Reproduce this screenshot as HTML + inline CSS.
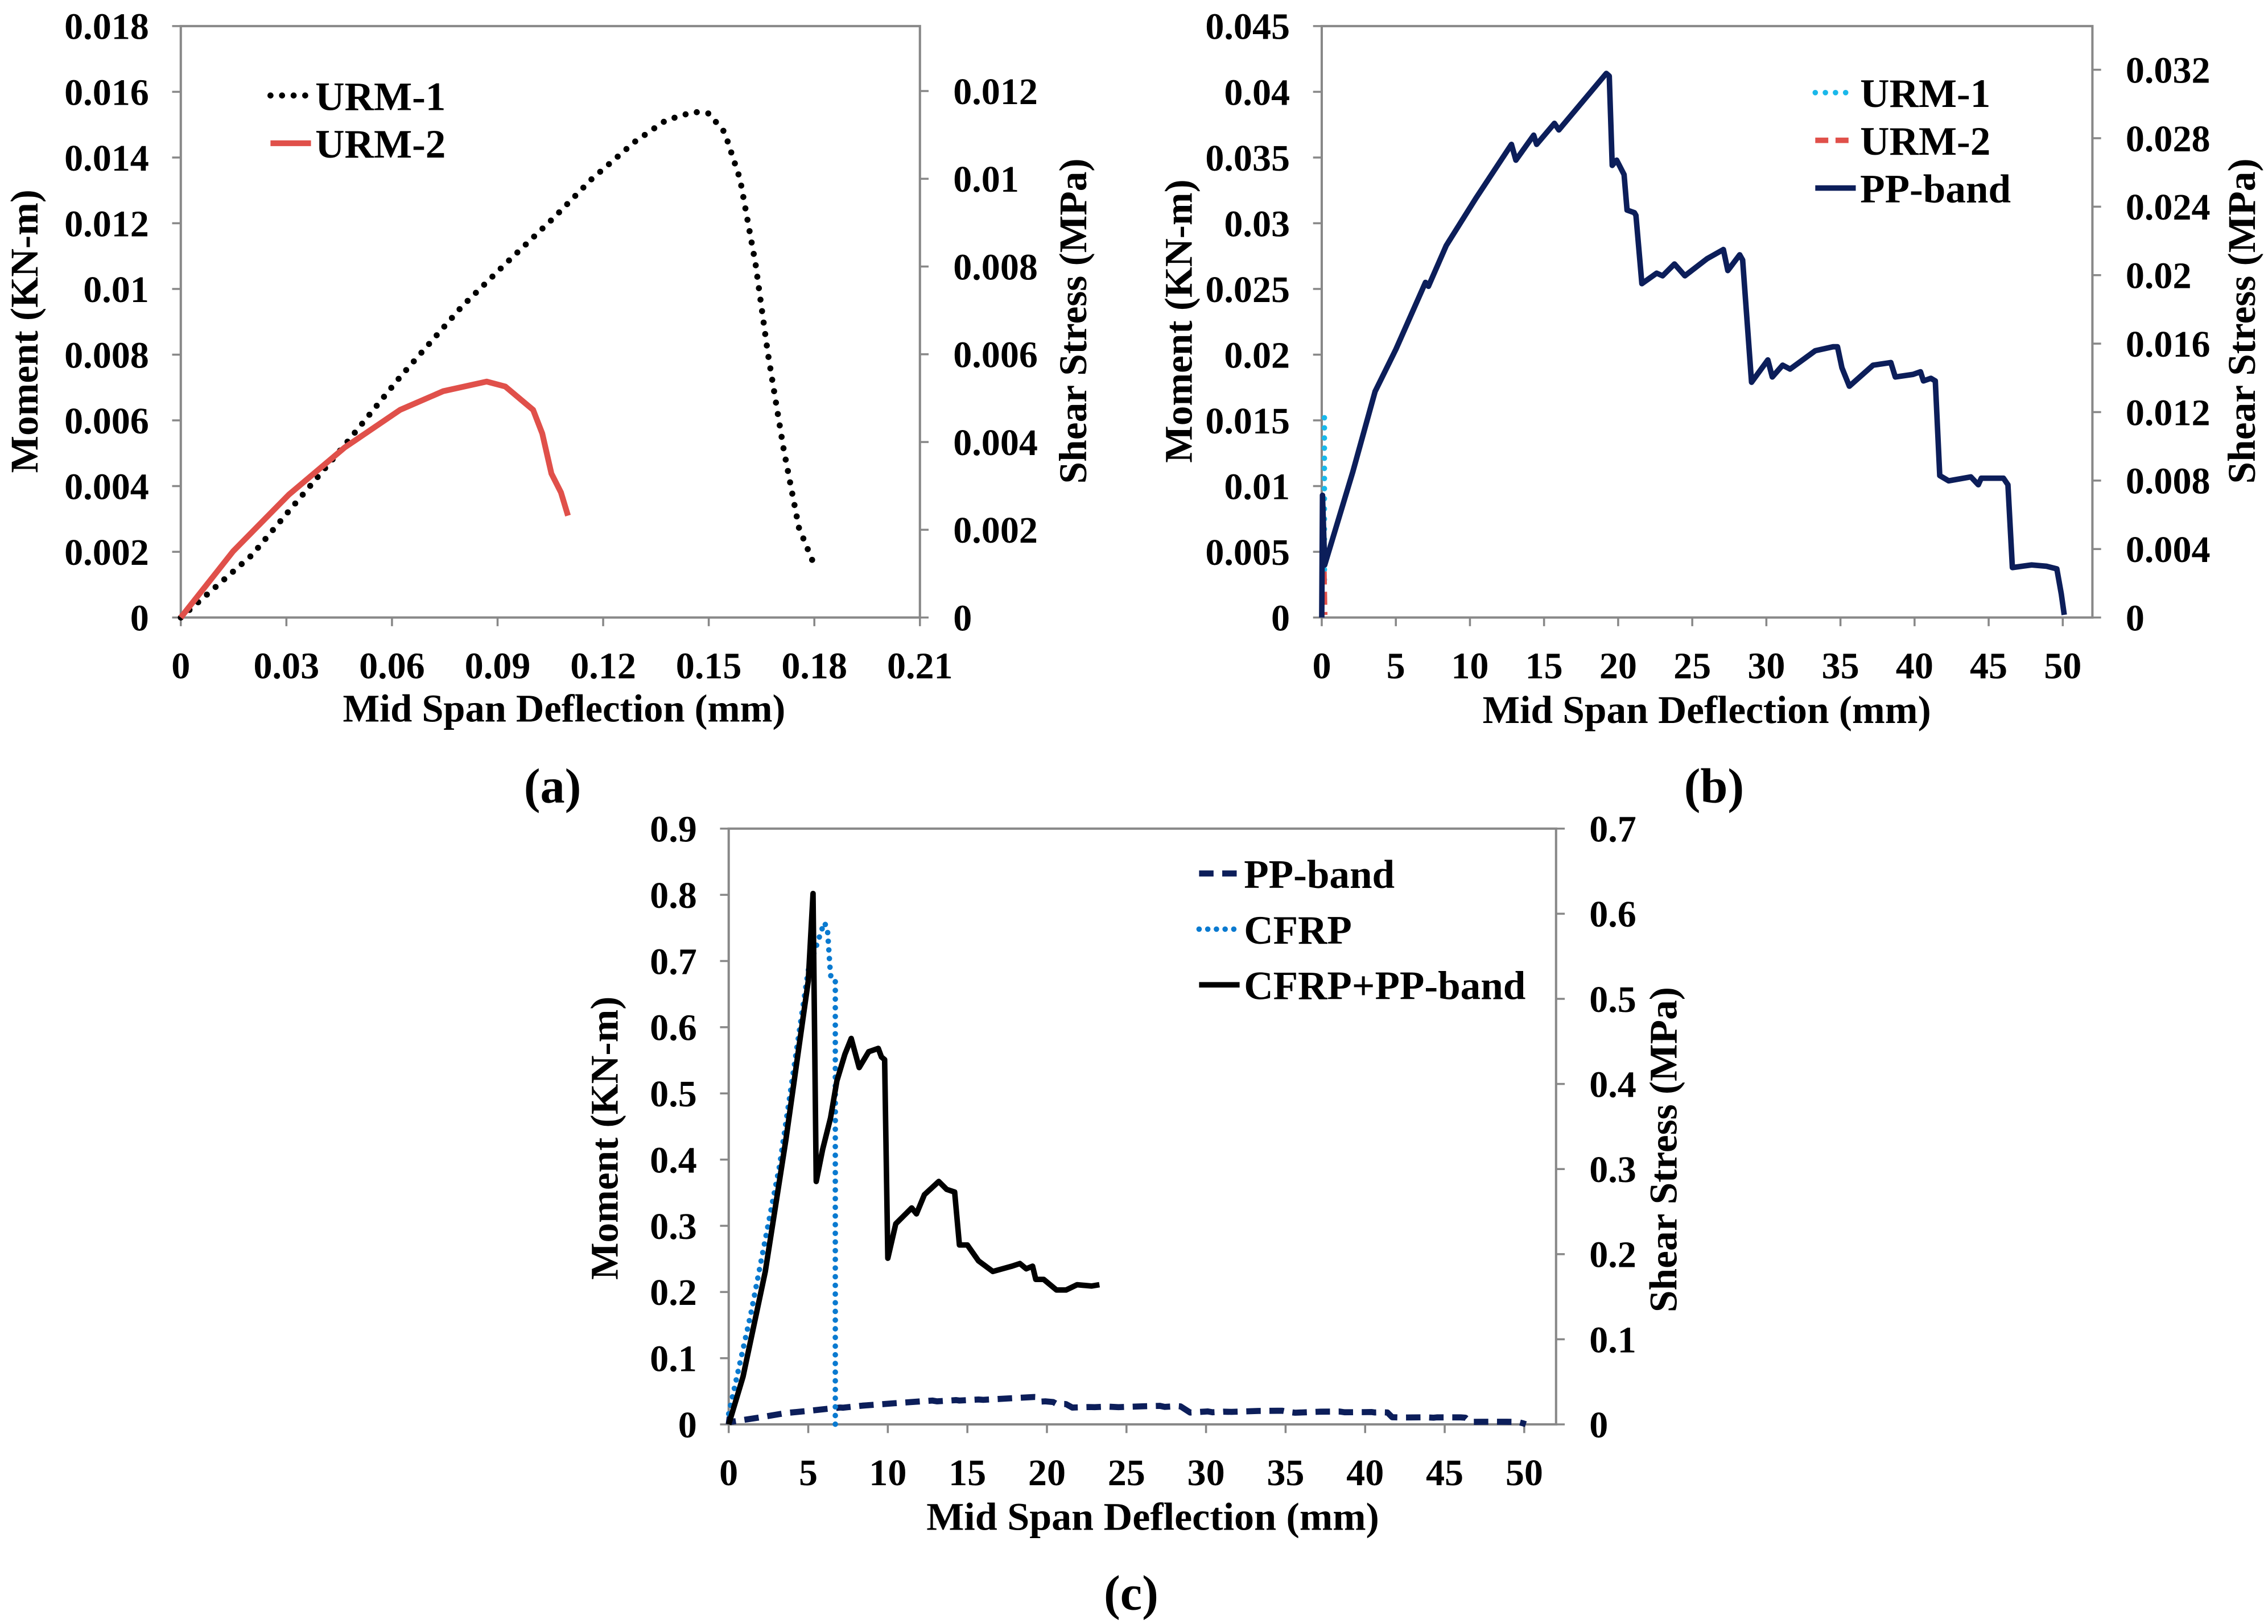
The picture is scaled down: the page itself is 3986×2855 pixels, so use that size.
<!DOCTYPE html>
<html><head><meta charset="utf-8"><style>
html,body{margin:0;padding:0;background:#fff;}
svg{display:block;}
text{font-family:"Liberation Serif",serif;font-weight:bold;fill:#000;}
</style></head><body>
<svg id="fig" width="3986" height="2855" viewBox="0 0 1568 1123" xmlns="http://www.w3.org/2000/svg"></svg>
<script>
// ---- Data (a) ----
const urm1X=[0,0.0202,0.0307,0.0465,0.0623,0.0799,0.0922,0.1062,0.1167,0.129,0.1378,0.1457,0.150,0.1545,0.1589,0.1633,0.1668,0.1712,0.1756,0.18];
const urm1M=[0,0.0019,0.00324,0.00524,0.00732,0.00947,0.01076,0.01219,0.01334,0.01448,0.01513,0.01539,0.01534,0.01477,0.01334,0.01076,0.00804,0.00517,0.00274,0.00159];
const urm2X=[0,0.0149,0.0307,0.0465,0.0623,0.0746,0.0869,0.0922,0.1001,0.1027,0.1053,0.108,0.11];
const urm2M=[0,0.00202,0.00374,0.00517,0.00632,0.00689,0.00718,0.00703,0.00632,0.0056,0.00438,0.00381,0.0031];
// ---- Data (b) ----
const ppX=[0,0.05,0.2,2.1,3.6,5.0,7.0,7.2,8.4,10.4,12.8,13.1,14.3,14.5,15.7,16.0,19.2,19.4,19.6,19.9,20.4,20.6,21.1,21.2,21.6,22.6,23.0,23.8,24.5,26.0,27.1,27.4,28.2,28.4,29.0,30.1,30.4,31.1,31.6,33.3,34.5,34.8,35.1,35.6,37.2,38.4,38.7,39.9,40.4,40.6,41.1,41.4,41.7,42.3,43.8,44.3,44.5,46.0,46.3,46.6,47.9,48.9,49.6,49.9,50.1];
const ppM=[0,0.0093,0.004,0.0111,0.0172,0.0204,0.0255,0.0252,0.0283,0.0319,0.036,0.0348,0.0367,0.036,0.0376,0.0371,0.0414,0.0412,0.0344,0.0348,0.0337,0.031,0.0308,0.0306,0.0254,0.0262,0.026,0.0269,0.026,0.0273,0.028,0.0264,0.0276,0.0272,0.0179,0.0196,0.0183,0.0192,0.0189,0.0203,0.0206,0.0206,0.019,0.0176,0.0192,0.0194,0.0183,0.0185,0.0187,0.018,0.0182,0.018,0.0108,0.0104,0.0107,0.0101,0.0106,0.0106,0.0101,0.0038,0.004,0.0039,0.0037,0.0018,0.0002];
const bUrm1X=[0.18,0.18];
const bUrm1M=[0.0152,0.0025];
const bUrm2X=[0.15,0.2];
const bUrm2M=[0.0035,0.0002];
// ---- Data (c) ----
const combX=[0,0.9,2.3,3.6,5.0,5.3,5.5,5.9,6.4,6.8,7.3,7.7,8.2,8.8,9.4,9.6,9.8,10.0,10.5,11.0,11.5,11.8,12.3,13.2,13.7,14.2,14.5,15.0,15.7,16.6,17.8,18.3,18.7,19.1,19.3,19.8,20.6,21.2,21.9,22.8,23.3];
const combM=[0,0.072,0.231,0.431,0.67,0.802,0.367,0.415,0.463,0.519,0.559,0.583,0.539,0.563,0.568,0.555,0.551,0.251,0.303,0.315,0.327,0.318,0.347,0.367,0.355,0.351,0.271,0.271,0.247,0.231,0.239,0.243,0.235,0.239,0.219,0.219,0.203,0.203,0.211,0.209,0.211];
const cfrpX=[0,1.4,3.2,5.0,6.0,6.2,6.4,6.7,6.7];
const cfrpM=[0.016,0.168,0.391,0.686,0.758,0.75,0.678,0.674,0];
const ppScaleC=[1];

const xTicksA=["0","0.03","0.06","0.09","0.12","0.15","0.18","0.21"];
const yTicksA=["0","0.002","0.004","0.006","0.008","0.01","0.012","0.014","0.016","0.018"];
const y2TicksA=["0","0.002","0.004","0.006","0.008","0.01","0.012"];
const xTicksB=["0","5","10","15","20","25","30","35","40","45","50"];
const yTicksB=["0","0.005","0.01","0.015","0.02","0.025","0.03","0.035","0.04","0.045"];
const y2TicksB=["0","0.004","0.008","0.012","0.016","0.02","0.024","0.028","0.032"];
const yTicksC=["0","0.1","0.2","0.3","0.4","0.5","0.6","0.7","0.8","0.9"];
const y2TicksC=["0","0.1","0.2","0.3","0.4","0.5","0.6","0.7"];

const NS="http://www.w3.org/2000/svg";
const svg=document.getElementById('fig');
function el(tag,attrs,parent,txt){const e=document.createElementNS(NS,tag);for(const k in attrs)e.setAttribute(k,attrs[k]);if(txt!==undefined)e.textContent=txt;(parent||svg).appendChild(e);return e;}

function panel(c){
  const g=el('g',{});
  
  
  const sx=v=>c.x0+(c.x1-c.x0)*v/c.xmax;
  const sy=v=>c.y1-(c.y1-c.y0)*v/c.ymax;
  const sy2=v=>c.y1-(c.y1-c.y0)*v/c.y2max;
  const frame=el('rect',{x:c.x0,y:c.y0,width:c.x1-c.x0,height:c.y1-c.y0,fill:'none',stroke:'#888','stroke-width':1.6},g);
  
  
  c.xt.forEach(t=>{const v=parseFloat(t);const x=sx(v);
    el('line',{x1:x,x2:x,y1:c.y1,y2:c.y1+6,stroke:'#888','stroke-width':1.4},g);
    const tx=el('text',{x:x,y:c.y1+42,'font-size':26,'text-anchor':'middle'},g,t);
    
    });
  c.yt.forEach(t=>{const v=parseFloat(t);const y=sy(v);
    el('line',{x1:c.x0-6,x2:c.x0,y1:y,y2:y,stroke:'#888','stroke-width':1.4},g);
    const tx=el('text',{x:c.x0-22,y:y+9,'font-size':26,'text-anchor':'end'},g,t);
    
    });
  c.y2t.forEach(t=>{const v=parseFloat(t);const y=sy2(v);
    el('line',{x1:c.x1,x2:c.x1+6,y1:y,y2:y,stroke:'#888','stroke-width':1.4},g);
    const tx=el('text',{x:c.x1+23,y:y+9,'font-size':26,'text-anchor':'start'},g,t);
    
    });
  const xt=el('text',{x:c.xtx,y:c.xty,'font-size':27,'text-anchor':'middle',textLength:c.xtl,lengthAdjust:'spacingAndGlyphs'},g,'Mid Span Deflection (mm)');
  
  
  const yt=el('text',{x:0,y:0,'font-size':27,'text-anchor':'middle',textLength:196,lengthAdjust:'spacingAndGlyphs',transform:`translate(${c.ytx},${c.yty}) rotate(-90)`},g,'Moment (KN-m)');
  
  
  const y2=el('text',{x:0,y:0,'font-size':27,'text-anchor':'middle',textLength:225,lengthAdjust:'spacingAndGlyphs',transform:`translate(${c.y2tx},${c.y2ty}) rotate(-90)`},g,'Shear Stress (MPa)');
  
  
  c.series.forEach(s=>{
    const d=s.x.map((v,i)=>(i?'L':'M')+sx(v).toFixed(2)+','+sy(s.y[i]).toFixed(2)).join('');
    const p=el('path',{d:d,fill:'none',stroke:s.color,'stroke-width':s.w,'stroke-dasharray':s.dash||'none','stroke-linecap':s.cap||'butt','stroke-linejoin':'round'},g);
    
    
  });
  c.legend.forEach((s,i)=>{
    const y=c.ly+i*c.lgap;
    const ln=el('line',{x1:c.lx,x2:c.lx+28,y1:y,y2:y,stroke:s.color,'stroke-width':s.w,'stroke-dasharray':s.dash||'none','stroke-linecap':s.cap||'butt'},g);
    
    
    const t=el('text',{x:c.lx+31,y:y+10,'font-size':28},g,s.label);
    
    
  });
  const pl=el('text',{x:c.plx,y:c.ply,'font-size':34,'text-anchor':'middle'},g,c.plabel);
  
  
}

const sU1={name:'series-urm-1',label:'URM-1',color:'#000',w:4.2,dash:'0 8',cap:'round'};
const sU2={name:'series-urm-2',label:'URM-2',color:'#e0504a',w:4};
panel({name:'panel-a',x0:125,x1:636,y0:18,y1:427,xmax:0.21,ymax:0.018,y2max:0.01348,
  xt:xTicksA,yt:yTicksA,y2t:y2TicksA,xtx:390,xty:499,xtl:306,ytx:26,yty:229,y2tx:751,y2ty:222,
  series:[Object.assign({},sU1,{x:urm1X,y:urm1M}),Object.assign({},sU2,{x:urm2X,y:urm2M})],
  legend:[sU1,sU2],lx:187,ly:66,lgap:33,plx:382,ply:555,plabel:'(a)'});

const bU1={name:'series-urm-1',label:'URM-1',color:'#1ab8ea',w:3.8,dash:'0 7',cap:'round'};
const bU2={name:'series-urm-2',label:'URM-2',color:'#e0504a',w:3.8,dash:'9 5'};
const bPP={name:'series-pp-band',label:'PP-band',color:'#0c1e5a',w:3.8};
panel({name:'panel-b',x0:913.8,x1:1446.6,y0:18,y1:427,xmax:52,ymax:0.045,y2max:0.03455,
  xt:xTicksB,yt:yTicksB,y2t:y2TicksB,xtx:1180,xty:500,xtl:310,ytx:824,yty:222,y2tx:1559,y2ty:222,
  series:[Object.assign({},bU1,{x:bUrm1X,y:bUrm1M}),Object.assign({},bU2,{x:bUrm2X,y:bUrm2M}),Object.assign({},bPP,{x:ppX,y:ppM})],
  legend:[bU1,bU2,bPP],lx:1255,ly:64,lgap:33,plx:1185,ply:555,plabel:'(b)'});

const cPP={name:'series-pp-band',label:'PP-band',color:'#0c1e5a',w:4.2,dash:'10 6'};
const cCF={name:'series-cfrp',label:'CFRP',color:'#0a7ad0',w:3.8,dash:'0 6',cap:'round'};
const cCB={name:'series-cfrp-pp-band',label:'CFRP+PP-band',color:'#000',w:3.8};
panel({name:'panel-c',x0:503.8,x1:1075.8,y0:573,y1:985,xmax:52,ymax:0.9,y2max:0.7,
  xt:xTicksB,yt:yTicksC,y2t:y2TicksC,xtx:797,xty:1058,xtl:313,ytx:427,yty:787,y2tx:1159,y2ty:795,
  series:[Object.assign({},cPP,{x:ppX,y:ppM.map(v=>v*ppScaleC[0])}),Object.assign({},cCF,{x:cfrpX,y:cfrpM}),Object.assign({},cCB,{x:combX,y:combM})],
  legend:[cPP,cCF,cCB],lx:829,ly:604,lgap:38.5,plx:782,ply:1113,plabel:'(c)'});
</script>
</body></html>
